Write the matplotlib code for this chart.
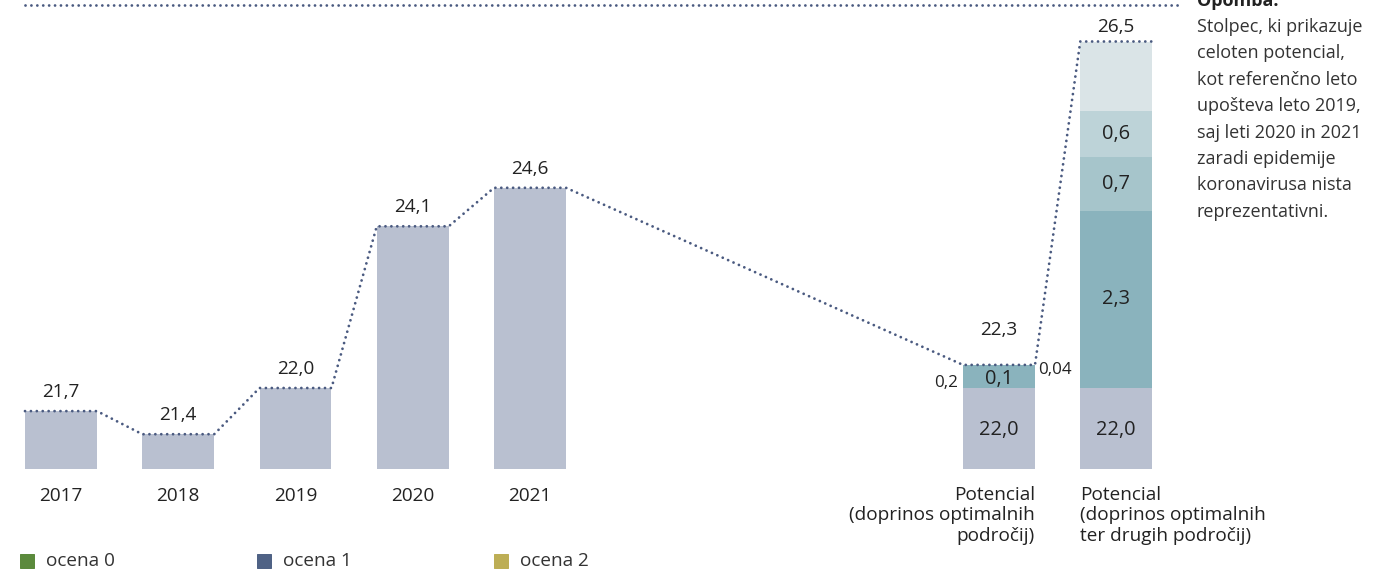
import numpy as np
import matplotlib
matplotlib.use("Agg")
import matplotlib.pyplot as plt
from matplotlib.patches import Rectangle
from matplotlib.lines import Line2D

plt.rcParams['font.family'] = ['Open Sans', 'DejaVu Sans']

# podatki
years = ["2017", "2018", "2019", "2020", "2021"]
year_values = [21.7, 21.4, 22.0, 24.1, 24.6]

pot_labels = ["Potencial\n(doprinos optimalnih\npodročij)",
              "Potencial\n(doprinos optimalnih\nter drugih področij)"]
pot_base = 22.0
pot1_parts = [0.2, 0.1]          # optimalna področja
pot1_total = 22.3
pot2_parts = [2.3, 0.7, 0.6, 0.9]
pot2_total = 26.5
pot2_part_labels = ["2,3", "0,7", "0,6", ""]

legend_labels = ["ocena 0", "ocena 1", "ocena 2"]
legend_colors = ["#5b8a3c", "#4f6285", "#bdae55"]

note_title = "Opomba."
note_lines = ["Stolpec, ki prikazuje", "celoten potencial,", "kot referenčno leto",
              "upošteva leto 2019,", "saj leti 2020 in 2021", "zaradi epidemije",
              "koronavirusa nista", "reprezentativni."]

fmt = lambda v: ("%.1f" % v).replace(".", ",")

c_bar = "#b9c0d0"
c_parts = ["#8ab3bd", "#a6c5cb", "#bdd3d8", "#dae4e7"]
c_dot = "#4a5a80"
c_txt = "#222222"

W, H = 1396, 571
fig = plt.figure(figsize=(W / 72, H / 72), dpi=72)
ax = fig.add_axes([0, 0, 1, 1])
ax.set_axis_off()

slope = 77.0  # px na enoto
ax.set_xlim(-61 / 117.25, (W - 61) / 117.25)
ax.set_ylim(22 - (H - 388) / slope, 22 + 388 / slope)
base = 22 - 81 / slope
width = 0.614
fs = 19
fs_in = 20
dots = dict(color=c_dot, lw=2.8, linestyle=(0, (0.01, 2.1)), dash_capstyle="round")

x_years = np.arange(len(years))
x_pot = np.array([8, 9])

ax.bar(x_years, np.array(year_values) - base, bottom=base, width=width, color=c_bar)
for x, v in zip(x_years, year_values):
    ax.annotate(fmt(v), (x, v), xytext=(0, 19), textcoords="offset points",
                ha="center", va="center", fontsize=fs, color=c_txt)
    ax.annotate(years[x], (x, base), xytext=(0, -27), textcoords="offset points",
                ha="center", va="center", fontsize=fs, color=c_txt)

# potencial 1
ax.bar(x_pot, pot_base - base, bottom=base, width=width, color=c_bar)
ax.bar(x_pot[0], sum(pot1_parts), bottom=pot_base, width=width, color=c_parts[0])
for x in x_pot:
    ax.text(x, (base + pot_base) / 2 - 0.02, fmt(pot_base), ha="center", va="center",
            fontsize=fs_in, color=c_txt)
ax.text(x_pot[0], pot_base + sum(pot1_parts) / 2 - 0.03, fmt(pot1_parts[1]),
        ha="center", va="center", fontsize=fs_in, color=c_txt)
ax.annotate("0,2", (x_pot[0] - width / 2, pot_base + 0.06), xytext=(-5, 0),
            textcoords="offset points", ha="right", va="center", fontsize=17, color=c_txt)
ax.annotate("0,04", (x_pot[0] + width / 2, pot1_total - 0.07), xytext=(3, 0),
            textcoords="offset points", ha="left", va="center", fontsize=17, color=c_txt)
ax.annotate(fmt(pot1_total), (x_pot[0], pot1_total), xytext=(0, 35),
            textcoords="offset points", ha="center", va="center", fontsize=fs, color=c_txt)

# potencial 2
bottom = pot_base
for val, col, lab in zip(pot2_parts, c_parts, pot2_part_labels):
    ax.bar(x_pot[1], val, bottom=bottom, width=width, color=col)
    if lab:
        ax.text(x_pot[1], bottom + val / 2, lab, ha="center", va="center",
                fontsize=fs_in, color=c_txt)
    bottom += val
ax.annotate(fmt(pot2_total), (x_pot[1], pot2_total), xytext=(0, 14),
            textcoords="offset points", ha="center", va="center", fontsize=fs, color=c_txt)

ax.text(x_pot[0] + width / 2, base - 17 / slope, pot_labels[0], ha="right", va="top",
        fontsize=fs, color=c_txt, linespacing=1.17)
ax.text(x_pot[1] - width / 2, base - 17 / slope, pot_labels[1], ha="left", va="top",
        fontsize=fs, color=c_txt, linespacing=1.17)

# pikčasta črta
xs, ys = [], []
for x, v in list(zip(x_years, year_values)) + [(x_pot[0], pot1_total), (x_pot[1], pot2_total)]:
    xs += [x - width / 2, x + width / 2]
    ys += [v, v]
ax.plot(xs, ys, **dots)

fig.add_artist(Line2D([25 / W, 1180 / W], [1 - 5 / H] * 2, **dots))

# legenda
for i, (lab, col) in enumerate(zip(legend_labels, legend_colors)):
    x0 = 20 + i * 237
    fig.add_artist(Rectangle((x0 / W, 1 - 568 / H), 14 / W, 14 / H, color=col))
    fig.text((x0 + 26) / W, 1 - 561 / H, lab, ha="left", va="center", fontsize=19, color="#333333")

# opomba
fig.text(1197 / W, 1 - 6 / H, note_title, ha="left", va="baseline", fontsize=18,
         fontweight="bold", color=c_txt)
for i, line in enumerate(note_lines):
    fig.text(1197 / W, 1 - (27 + i * 26.4) / H, line, ha="left", va="center",
             fontsize=18, color="#333333")

fig.savefig("out.png", dpi=72)
